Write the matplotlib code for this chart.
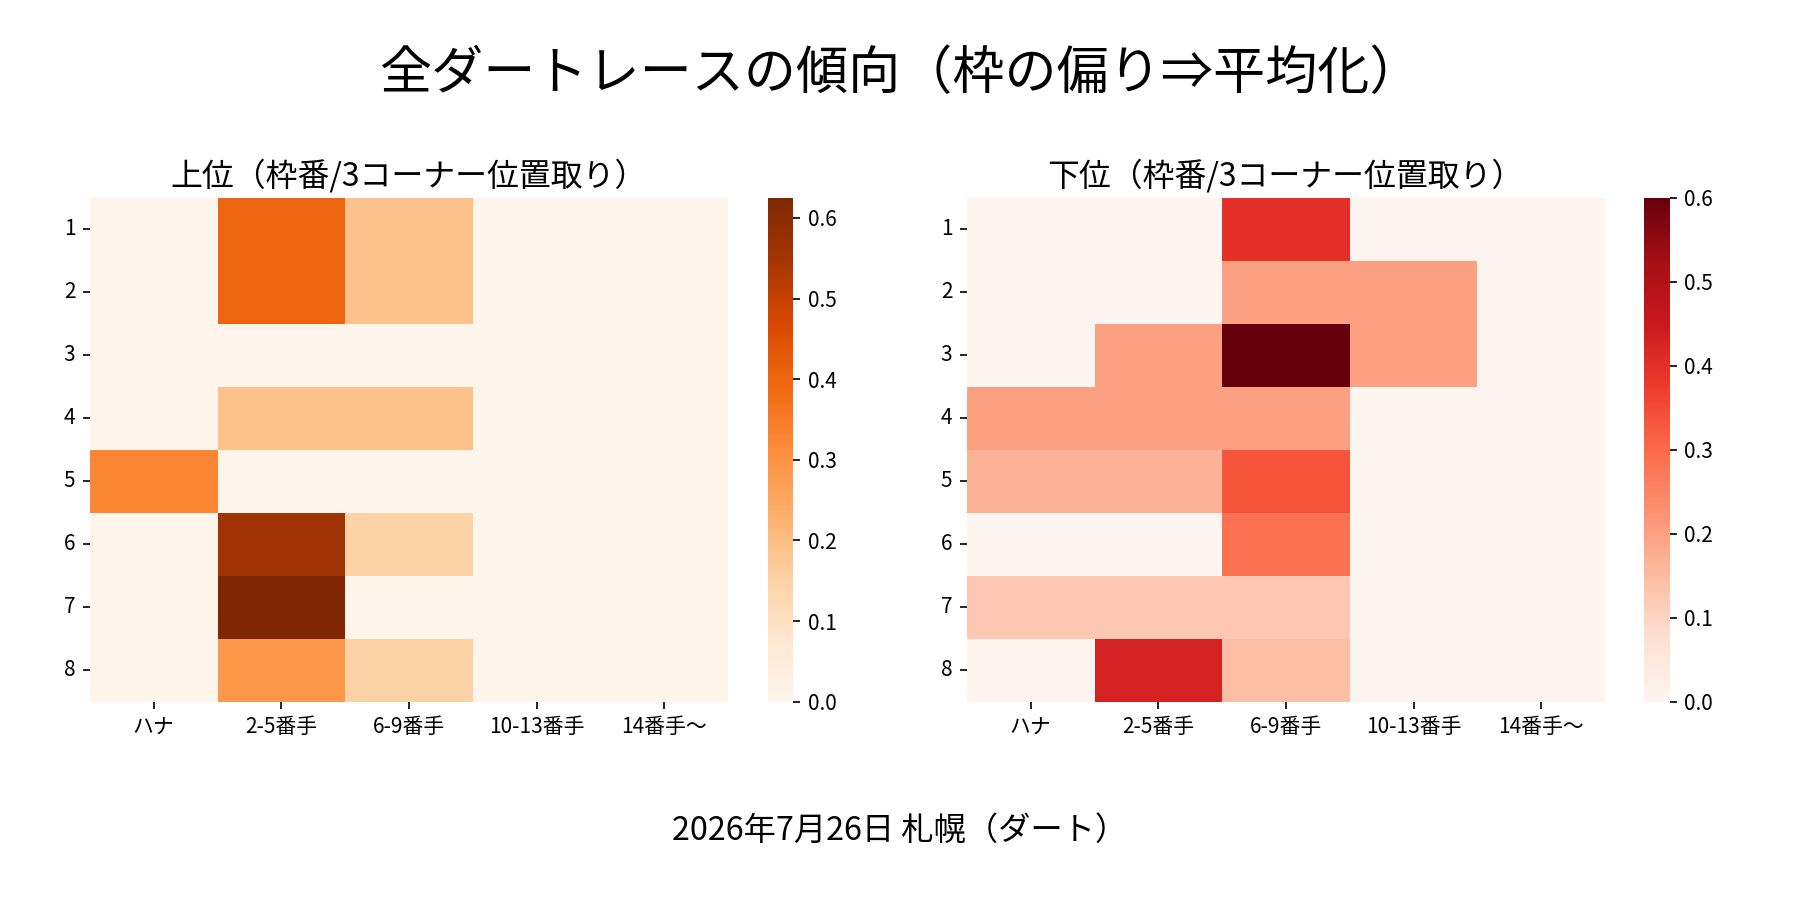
import numpy as np
import matplotlib
matplotlib.use("Agg")
import matplotlib.pyplot as plt
import seaborn as sns

plt.rcParams['font.family'] = ['Noto Sans CJK JP', 'DejaVu Sans']

rows = ["1", "2", "3", "4", "5", "6", "7", "8"]
cols = ["ハナ", "2-5番手", "6-9番手", "10-13番手", "14番手〜"]

upper = [
    [0.0, 0.40, 0.19, 0.0, 0.0],
    [0.0, 0.40, 0.19, 0.0, 0.0],
    [0.0, 0.0, 0.0, 0.0, 0.0],
    [0.0, 0.19, 0.19, 0.0, 0.0],
    [0.33, 0.0, 0.0, 0.0, 0.0],
    [0.0, 0.56, 0.15, 0.0, 0.0],
    [0.0, 0.625, 0.0, 0.0, 0.0],
    [0.0, 0.29, 0.15, 0.0, 0.0],
]
lower = [
    [0.0, 0.0, 0.40, 0.0, 0.0],
    [0.0, 0.0, 0.20, 0.20, 0.0],
    [0.0, 0.20, 0.60, 0.20, 0.0],
    [0.20, 0.20, 0.20, 0.0, 0.0],
    [0.167, 0.167, 0.333, 0.0, 0.0],
    [0.0, 0.0, 0.286, 0.0, 0.0],
    [0.125, 0.125, 0.125, 0.0, 0.0],
    [0.0, 0.429, 0.143, 0.0, 0.0],
]

main_title = "全ダートレースの傾向（枠の偏り⇒平均化）"
left_title = "上位（枠番/3コーナー位置取り）"
right_title = "下位（枠番/3コーナー位置取り）"
footer = "2026年7月26日 札幌（ダート）"

fig = plt.figure(figsize=(12, 6), dpi=150)
ax1 = fig.add_axes([0.050, 0.2203, 0.3544, 0.560])
cax1 = fig.add_axes([0.4267, 0.2203, 0.0139, 0.560])
ax2 = fig.add_axes([0.5372, 0.2203, 0.3544, 0.560])
cax2 = fig.add_axes([0.9133, 0.2203, 0.0144, 0.560])

sns.heatmap(np.array(upper), ax=ax1, cbar_ax=cax1, cmap="Oranges",
            xticklabels=cols, yticklabels=rows, vmin=0)
sns.heatmap(np.array(lower), ax=ax2, cbar_ax=cax2, cmap="Reds",
            xticklabels=cols, yticklabels=rows, vmin=0)

for ax, t in ((ax1, left_title), (ax2, right_title)):
    ax.set_title(t, fontsize=15.3, pad=6)
    ax.tick_params(axis='both', labelsize=10)
    ax.set_yticklabels(rows, rotation=0)
    ax.set_xticklabels(cols, rotation=0)
for cax in (cax1, cax2):
    cax.tick_params(labelsize=10)

fig.text(0.5, 0.917, main_title, ha='center', va='center', fontsize=25)
fig.text(0.5, 0.077, footer, ha='center', va='center', fontsize=15.5)

fig.savefig("out.png", dpi=150)
